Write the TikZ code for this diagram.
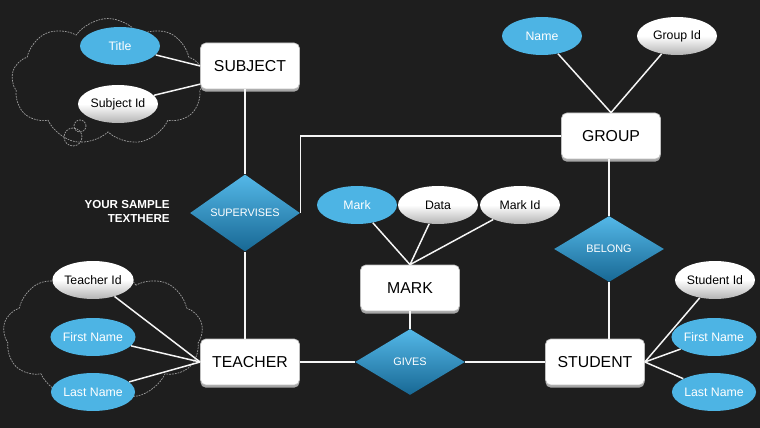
\documentclass[tikz,border=0pt]{standalone}
\usepackage{fontspec}
\setmainfont{Liberation Sans}
\usetikzlibrary{shapes.geometric,shapes.symbols,shadows}
\definecolor{bg}{RGB}{30,30,30}
\definecolor{attblue}{RGB}{77,180,228}
\definecolor{reltop}{RGB}{84,184,232}
\definecolor{relbot}{RGB}{24,104,148}

\begin{document}
\begin{tikzpicture}[x=0.02cm, y=-0.02cm,
  ent/.style={draw=gray!50, fill=white, rounded corners=3pt, minimum width=1.98cm, minimum height=0.92cm,
    font=\fontsize{9}{10}\selectfont, drop shadow={shadow xshift=0pt, shadow yshift=-1.5pt, fill=gray!70, opacity=1}},
  attb/.style={ellipse, fill=attblue, text=white, minimum width=1.6cm, minimum height=0.76cm, inner sep=0pt,
    font=\fontsize{7}{8}\selectfont},
  attw/.style={ellipse, top color=white, bottom color=gray!60, middle color=white, minimum width=1.6cm,
    minimum height=0.76cm, inner sep=0pt, font=\fontsize{7}{8}\selectfont},
  rel/.style={diamond, top color=reltop, bottom color=relbot, text=white, minimum width=2.2cm,
    minimum height=1.32cm, inner sep=0pt, font=\fontsize{6.2}{7}\selectfont},
  lnk/.style={white!92!gray, line width=0.85pt},
  bubble/.style={draw=gray!75, dash pattern=on 1pt off 0.6pt, line width=0.4pt}]
\fill[bg] (0,0) rectangle (760,428);
% thought clouds
\node[bubble, cloud, cloud puffs=9, cloud puff arc=110, minimum width=3.86cm, minimum height=2.54cm] (cl1) at (108,82) {};
\node[bubble, circle, minimum size=0.24cm, inner sep=0pt] (b1) at (80,126) {};
\node[bubble, circle, minimum size=0.36cm, inner sep=0pt] (b2) at (73,137) {};
\node[bubble, cloud, cloud puffs=9, cloud puff arc=110, minimum width=4cm, minimum height=2.64cm] (cl2) at (103,334) {};
% subject
\node[attb] (title) at (120,46) {Title};
\node[attw] (subid) at (118,104) {Subject Id};
\node[ent] (sub) at (250,66) {SUBJECT};
\draw[lnk] (title) -- (sub.west);
\draw[lnk] (subid) -- (sub.200);
% group
\node[attb] (gname) at (542,36) {Name};
\node[attw] (gid) at (677,36) {Group Id};
\node[ent] (grp) at (611,136) {GROUP};
\draw[lnk] (gname) -- (grp.north);
\draw[lnk] (gid) -- (grp.north);
% relations
\node[rel] (sup) at (245,213) {SUPERVISES};
\node[rel] (bel) at (609,249) {BELONG};
\node[rel] (gives) at (410,362) {GIVES};
\node[align=right, text=white, font=\bfseries\fontsize{6.6}{8}\selectfont, anchor=east, inner sep=0pt] (note) at (170,211) {YOUR SAMPLE\\TEXTHERE};
\draw[lnk] (sup.north) -- (sup.north |- sub.south);
\draw[lnk] (grp.west) -| (sup.east);
\draw[lnk] (bel.north) -- (bel.north |- grp.south);
% mark
\node[attb] (mk) at (357,205) {Mark};
\node[attw] (dat) at (438,205) {Data};
\node[attw] (mkid) at (520,205) {Mark Id};
\node[ent] (mark) at (410,288) {MARK};
\draw[lnk] (mk) -- (mark.north);
\draw[lnk] (dat) -- (mark.north);
\draw[lnk] (mkid) -- (mark.north);
\draw[lnk] (mark) -- (gives);
% teacher
\node[ent] (tea) at (250,362) {TEACHER};
\node[attw] (tid) at (93,280) {Teacher Id};
\node[attb] (tfn) at (93,337) {First Name};
\node[attb] (tln) at (93,392) {Last Name};
\draw[lnk] (sup.south) -- (sup.south |- tea.north);
\draw[lnk] (tid) -- (tea.west);
\draw[lnk] (tfn) -- (tea.west);
\draw[lnk] (tln) -- (tea.west);
\draw[lnk] (tea) -- (gives);
% student
\node[ent] (stu) at (595,362) {STUDENT};
\node[attw] (sid) at (715,280) {Student Id};
\node[attb] (sfn) at (714,337) {First Name};
\node[attb] (sln) at (714,392) {Last Name};
\draw[lnk] (bel.south) -- (bel.south |- stu.north);
\draw[lnk] (sid) -- (stu.east);
\draw[lnk] (sfn) -- (stu.east);
\draw[lnk] (sln) -- (stu.east);
\draw[lnk] (gives) -- (stu);
\end{tikzpicture}
\end{document}
